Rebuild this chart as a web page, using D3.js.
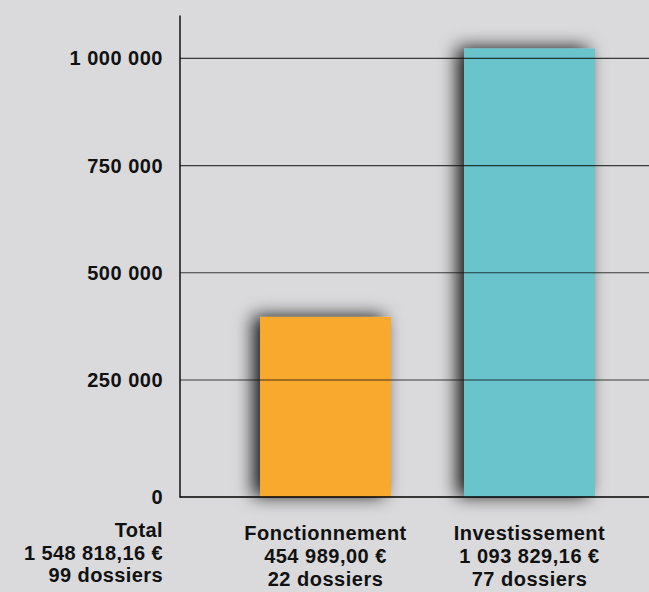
<!DOCTYPE html>
<html>
<head>
<meta charset="utf-8">
<script src="https://cdn.jsdelivr.net/npm/d3@7"></script>
<style>
  html, body { margin: 0; padding: 0; background: #dadadc; }
  svg { display: block; font-family: "Liberation Sans", Arial, sans-serif; font-weight: bold; }
</style>
</head>
<body>
<div class="chart"></div>
<script>
const WIDTH = 649
const HEIGHT = 592
const AXIS_X = 180
const LABEL_X = 163

// data
const CATEGORIES = ["Fonctionnement", "Investissement"]
const BAR_VALUES = [397000, 1023000]
const BAR_COLORS = ["#f8a92e", "#6bc4cc"]
const AMOUNTS = ["454 989,00 €", "1 093 829,16 €"]
const DOSSIERS = ["22 dossiers", "77 dossiers"]
const TICKS = [0, 250000, 500000, 750000, 1000000]
const TOTAL_LINES = ["Total", "1 548 818,16 €", "99 dossiers"]

const fmt = d3.formatLocale({ decimal: ",", thousands: " ", grouping: [3], currency: ["", " €"] }).format(",")

const svg = d3.select(".chart").append("svg").attr("width", WIDTH).attr("height", HEIGHT)

// soft drop shadow, mostly to the left of the bars
const defs = svg.append("defs")
const f = defs.append("filter").attr("id", "shadow")
  .attr("x", "-50%").attr("y", "-50%").attr("width", "200%").attr("height", "200%")
f.append("feDropShadow").attr("dx", -7).attr("dy", -1).attr("stdDeviation", 9)
  .attr("flood-color", "#000").attr("flood-opacity", 0.9)

// y scale: the 0 line sits a bit lower than the regular grid spacing
const y = d3.scaleLinear().domain([0, 250000, 1100000]).range([497, 380, 15.4])

const x = d3.scaleBand().domain(CATEGORIES).range([206, 649]).paddingInner(0.358).paddingOuter(0.265)

// bars
svg.append("g").selectAll("rect").data(CATEGORIES).join("rect")
  .attr("x", d => x(d))
  .attr("width", x.bandwidth())
  .attr("y", (d, i) => y(BAR_VALUES[i]))
  .attr("height", (d, i) => y(0) - y(BAR_VALUES[i]))
  .attr("fill", (d, i) => BAR_COLORS[i])
  .attr("filter", "url(#shadow)")

// gridlines drawn over the bars
svg.append("g").selectAll("line").data(TICKS.filter(t => t > 0)).join("line")
  .attr("x1", AXIS_X).attr("x2", WIDTH)
  .attr("y1", d => y(d)).attr("y2", d => y(d))
  .attr("stroke", "#111").attr("stroke-opacity", 0.8).attr("stroke-width", 1.2)

// baseline + y axis
svg.append("line").attr("x1", AXIS_X).attr("x2", WIDTH).attr("y1", y(0)).attr("y2", y(0))
  .attr("stroke", "#000").attr("stroke-width", 1.5)
svg.append("line").attr("x1", AXIS_X).attr("x2", AXIS_X).attr("y1", y(1100000)).attr("y2", y(0) + 0.75)
  .attr("stroke", "#111").attr("stroke-width", 1.5)

// tick labels
svg.append("g").selectAll("text").data(TICKS).join("text")
  .attr("x", LABEL_X).attr("y", d => y(d))
  .attr("dy", "0.35em")
  .attr("text-anchor", "end")
  .attr("font-size", 20)
  .attr("letter-spacing", 0.5)
  .attr("fill", "#111")
  .text(d => fmt(d))

// total block
svg.append("g").selectAll("text").data(TOTAL_LINES).join("text")
  .attr("x", LABEL_X).attr("y", (d, i) => 530 + i * 22.5)
  .attr("dy", "0.35em")
  .attr("text-anchor", "end")
  .attr("font-size", 20)
  .attr("letter-spacing", 0.4)
  .attr("fill", "#111")
  .text(d => d)

// category labels
const cat = svg.append("g").selectAll("text").data(CATEGORIES).join("text")
  .attr("x", d => x(d) + x.bandwidth() / 2)
  .attr("text-anchor", "middle")
  .attr("font-size", 20)
  .attr("letter-spacing", 0.5)
  .attr("fill", "#111")
cat.append("tspan").attr("x", d => x(d) + x.bandwidth() / 2).attr("y", 533).attr("dy", "0.35em").text(d => d)
cat.append("tspan").attr("x", d => x(d) + x.bandwidth() / 2).attr("y", 556).attr("dy", "0.35em").text((d, i) => AMOUNTS[i])
cat.append("tspan").attr("x", d => x(d) + x.bandwidth() / 2).attr("y", 578.5).attr("dy", "0.35em").text((d, i) => DOSSIERS[i])
</script>
</body>
</html>
